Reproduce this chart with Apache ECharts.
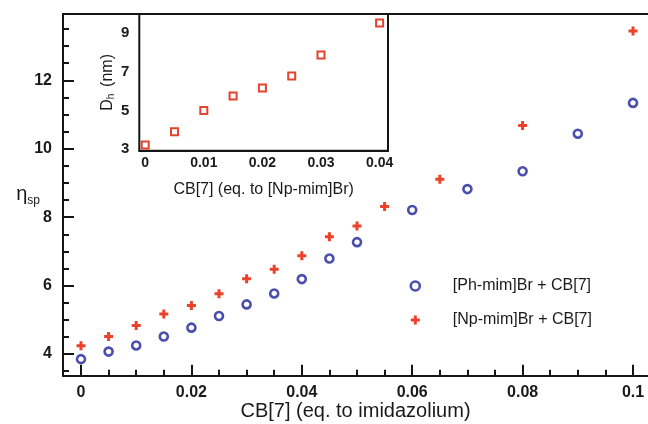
<!DOCTYPE html>
<html>
<head>
<meta charset="utf-8">
<script src="https://cdn.jsdelivr.net/npm/echarts@6/dist/echarts.min.js"></script>
<style>
  html, body { margin: 0; padding: 0; background: #fff; }
  #chart { width: 648px; height: 424px; }
</style>
</head>
<body>
<div id="chart"></div>
<script>
// Specific viscosity against CB[7] (eq. to imidazolium)
const phX = [0, 0.005, 0.01, 0.015, 0.02, 0.025, 0.03, 0.035, 0.04, 0.045, 0.05, 0.06, 0.07, 0.08, 0.09, 0.1];
const phY = [3.85, 4.07, 4.25, 4.51, 4.77, 5.11, 5.45, 5.77, 6.19, 6.79, 7.27, 8.21, 8.82, 9.34, 10.44, 11.34];
const npX = [0, 0.005, 0.01, 0.015, 0.02, 0.025, 0.03, 0.035, 0.04, 0.045, 0.05, 0.055, 0.065, 0.08, 0.1];
const npY = [4.24, 4.51, 4.83, 5.17, 5.42, 5.76, 6.20, 6.48, 6.87, 7.43, 7.74, 8.31, 9.11, 10.68, 13.44];

// Inset: hydrodynamic diameter against CB[7] (eq. to [Np-mim]Br)
const dhX = [0, 0.005, 0.01, 0.015, 0.02, 0.025, 0.03, 0.04];
const dhY = [3.21, 3.90, 4.99, 5.75, 6.16, 6.79, 7.88, 9.53];

// Tick labels
const mainXLabels = [0, 0.02, 0.04, 0.06, 0.08, 0.1];
const mainYLabels = [4, 6, 8, 10, 12];
const insetXLabels = [0, 0.01, 0.02, 0.03, 0.04];
const insetYLabels = [3, 5, 7, 9];

const seriesNames = ['[Ph-mim]Br + CB[7]', '[Np-mim]Br + CB[7]'];

// minor tick positions: every `step` from `from` to `to`, skipping the labelled ones
function minorTicks(from, to, step, majors) {
  const out = [];
  const n = Math.round((to - from) / step);
  for (let i = 0; i <= n; i++) {
    const v = +(from + i * step).toFixed(4);
    if (!majors.some(m => Math.abs(m - v) < 1e-9)) out.push(v);
  }
  return out;
}

const INK = '#151515';
const BLUE = '#4a4fae';
const RED = '#ea4329';
const FONT = 'Liberation Sans, Arial, sans-serif';
const fmt = v => String(parseFloat((+v).toFixed(4)));

function axis(gridIndex, position, min, max, opts) {
  return Object.assign({
    type: 'value', gridIndex, position, min, max,
    splitLine: { show: false },
    axisLine: { show: false, onZero: false },
    axisLabel: { show: false },
    axisTick: { show: false }
  }, opts);
}

function majorAxis(gridIndex, position, min, max, labels, tickLen, labelSize, margin, extra) {
  return axis(gridIndex, position, min, max, Object.assign({
    nameMoveOverlap: false,
    axisLine: { show: true, onZero: false, lineStyle: { color: INK, width: 2 } },
    axisTick: { show: true, inside: true, length: tickLen, customValues: labels, lineStyle: { color: INK, width: 2 } },
    axisLabel: { show: true, customValues: labels, formatter: fmt, fontSize: labelSize, fontWeight: 'bold', color: '#1a1a1a', fontFamily: FONT, margin }
  }, extra));
}

function minorAxis(gridIndex, position, min, max, ticks, tickLen) {
  return axis(gridIndex, position, min, max, {
    axisTick: { show: true, inside: true, length: tickLen, customValues: ticks, lineStyle: { color: INK, width: 2 } }
  });
}

// axis extents (main frame runs off the right edge of the canvas)
const MX = [-0.003261, 0.102717];
const MY = [3.3655, 13.9386];
const IX = [-0.001007, 0.041433];
const IY = [2.912, 10.0];

const chart = echarts.init(document.getElementById('chart'), null, { renderer: 'canvas' });

chart.setOption({
  backgroundColor: '#fff',
  animation: false,
  textStyle: { fontFamily: FONT },
  grid: [
    { left: 63, top: 14, right: 0, bottom: 48.3, show: false, outerBoundsMode: 'none' },
    { left: 139.3, top: 14, width: 248.7, height: 136.7, show: true, borderColor: INK, borderWidth: 2, backgroundColor: '#fff', z: 5, outerBoundsMode: 'none' }
  ],
  xAxis: [
    majorAxis(0, 'bottom', MX[0], MX[1], mainXLabels, 11, 16, 9, {
      name: 'CB[7] (eq. to imidazolium)', nameLocation: 'middle', nameGap: 26,
      nameTextStyle: { fontSize: 20, color: '#1a1a1a', fontFamily: FONT }
    }),
    minorAxis(0, 'bottom', MX[0], MX[1], minorTicks(0, 0.1, 0.005, mainXLabels), 6),
    majorAxis(1, 'bottom', IX[0], IX[1], insetXLabels, 10, 14, 5, {
      name: 'CB[7] (eq. to [Np-mim]Br)', nameLocation: 'middle', nameGap: 31,
      nameTextStyle: { fontSize: 16, color: '#1a1a1a', fontFamily: FONT }
    }),
    minorAxis(1, 'bottom', IX[0], IX[1], minorTicks(0, 0.04, 0.002, insetXLabels), 5),
    // top frame line of the main plot
    axis(0, 'top', MX[0], MX[1], { axisLine: { show: true, onZero: false, lineStyle: { color: INK, width: 2 } } })
  ],
  yAxis: [
    majorAxis(0, 'left', MY[0], MY[1], mainYLabels, 11, 16, 11, {
      name: '{e|η}{s|sp}', nameLocation: 'middle', nameRotate: 0, nameGap: 23,
      nameTextStyle: {
        color: '#1a1a1a', align: 'right',
        rich: {
          e: { fontSize: 20, fontFamily: FONT, color: '#1a1a1a' },
          s: { fontSize: 12, fontFamily: FONT, color: '#1a1a1a', padding: [11, 0, 0, 0] }
        }
      }
    }),
    minorAxis(0, 'left', MY[0], MY[1], minorTicks(3.5, 13.5, 0.5, mainYLabels), 6),
    majorAxis(1, 'left', IY[0], IY[1], insetYLabels, 10, 15, 10, {
      name: '{d|D}{s|h}  {d|(nm)}', nameLocation: 'middle', nameRotate: 90, nameGap: 23,
      nameTextStyle: {
        color: '#1a1a1a',
        rich: {
          d: { fontSize: 16, fontFamily: FONT, color: '#1a1a1a' },
          s: { fontSize: 10, fontFamily: FONT, color: '#1a1a1a', padding: [8, 0, 0, 0] }
        }
      }
    }),
    minorAxis(1, 'left', IY[0], IY[1], minorTicks(3, 9, 1, insetYLabels), 10)
  ],
  legend: {
    orient: 'vertical', left: 404.5, top: 273, itemGap: 18,
    itemWidth: 9, itemHeight: 9,
    data: [
      { name: seriesNames[0], itemStyle: { color: '#fff', borderColor: BLUE, borderWidth: 2.6 } },
      { name: seriesNames[1] }
    ],
    textStyle: { fontSize: 16, color: '#1a1a1a', fontFamily: FONT, padding: [0, 0, 0, 28] }
  },
  series: [
    {
      name: seriesNames[0], type: 'scatter', xAxisIndex: 0, yAxisIndex: 0,
      symbol: 'circle', symbolSize: 8,
      itemStyle: { color: '#fff', borderColor: BLUE, borderWidth: 2.6, opacity: 1 },
      data: phX.map((x, i) => [x, phY[i]])
    },
    {
      name: seriesNames[1], type: 'scatter', xAxisIndex: 0, yAxisIndex: 0,
      symbol: 'path://M3,0H6V3H9V6H6V9H3V6H0V3H3Z', symbolSize: 9,
      itemStyle: { color: RED, opacity: 1 },
      data: npX.map((x, i) => [x, npY[i]])
    },
    {
      name: 'Dh', type: 'scatter', xAxisIndex: 2, yAxisIndex: 2, z: 6,
      symbol: 'rect', symbolSize: 7,
      itemStyle: { color: '#fff', borderColor: '#e2452f', borderWidth: 2, opacity: 1 },
      data: dhX.map((x, i) => [x, dhY[i]])
    }
  ]
});
</script>
</body>
</html>
